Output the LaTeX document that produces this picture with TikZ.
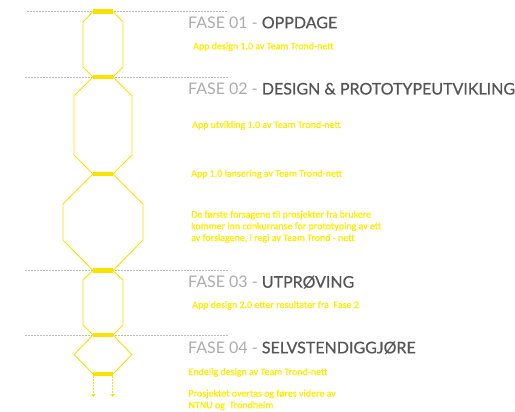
\documentclass[tikz,border=0pt]{standalone}
\usepackage{fontspec}
\setmainfont{Lato}
\newfontfamily\darkfont[FakeBold=0.6]{Lato}
\newfontfamily\bodyfont[FakeBold=0.8]{Carlito}
\usetikzlibrary{arrows.meta}
\definecolor{lineyellow}{RGB}{247,226,0}
\definecolor{textyellow}{RGB}{255,234,0}
\definecolor{phasegray}{RGB}{172,172,172}
\definecolor{titledark}{RGB}{85,85,85}
\definecolor{guidegray}{RGB}{190,190,190}
\tikzset{
  guide/.style={draw=guidegray, line width=0.8pt, dash pattern=on 2pt off 1pt},
  cell/.style={draw=lineyellow, line width=0.9pt, line join=miter},
  barnode/.style={fill=lineyellow, minimum width=20pt, minimum height=4.5pt, inner sep=0pt, draw=none},
  flow/.style={draw=lineyellow, line width=0.8pt, dash pattern=on 2pt off 1pt, -{Triangle[width=4pt,length=3pt]}},
  phase/.style={anchor=base west, inner sep=0pt, font=\fontsize{16}{19}\selectfont},
  note/.style={anchor=base west, inner sep=0pt, text=textyellow, font=\bodyfont\fontsize{10}{11.7}\selectfont, align=left},
}
\begin{document}
\begin{tikzpicture}[x=1pt,y=-1pt]
\useasboundingbox (0,0) rectangle (515,412);
% guide lines
\coordinate (g1a) at (27,11.5); \coordinate (g1b) at (228,11.5);
\coordinate (g2a) at (25,77); \coordinate (g2b) at (228,77);
\coordinate (g3a) at (25,270.5); \coordinate (g3b) at (228,270.5);
\coordinate (g4a) at (25,335); \coordinate (g4b) at (228,335);
\draw[guide] (g1a) -- (g1b);
\draw[guide] (g2a) -- (g2b);
\draw[guide] (g3a) -- (g3b);
\draw[guide] (g4a) -- (g4b);
% cells
\draw[cell] (93,11.5) -- (83,22) -- (83,67) -- (93,77) -- (113,77) -- (123,67) -- (123,22) -- (113,11.5) -- cycle;
\draw[cell] (93,77) -- (74,96) -- (74,155) -- (93,174) -- (113,174) -- (132,155) -- (132,96) -- (113,77) -- cycle;
\draw[cell] (93,174) -- (63,204) -- (63,240) -- (93,270.5) -- (113,270.5) -- (143,240) -- (143,204) -- (113,174) -- cycle;
\draw[cell] (93,270.5) -- (83,280) -- (83,325) -- (93,335) -- (113,335) -- (123,325) -- (123,280) -- (113,270.5) -- cycle;
\draw[cell] (93,335) -- (74,354.5) -- (93,374) -- (113,374) -- (132,354.5) -- (113,335) -- cycle;
% bars
\node[barnode] (b1) at (103,11.5) {};
\node[barnode] (b2) at (103,77) {};
\node[barnode] (b3) at (103,174) {};
\node[barnode] (b4) at (103,270.5) {};
\node[barnode] (b5) at (103,335) {};
\node[barnode] (b6) at (103,374) {};
% outgoing arrows
\coordinate (e1) at (93.3,397);
\coordinate (e2) at (112.7,397);
\draw[flow] (b6.south west -| e1) -- (e1);
\draw[flow] (b6.south east -| e2) -- (e2);
% titles
\node[phase] (t1) at (188,28.3) {\textcolor{phasegray}{FASE 01 - }\textcolor{titledark}{\darkfont OPPDAGE}};
\node[phase] (t2) at (188,94.5) {\textcolor{phasegray}{FASE 02 - }\textcolor{titledark}{\darkfont DESIGN \& PROTOTYPEUTVIKLING}};
\node[phase] (t3) at (188,287.7) {\textcolor{phasegray}{FASE 03 - }\textcolor{titledark}{\darkfont UTPRØVING}};
\node[phase] (t4) at (188,353.3) {\textcolor{phasegray}{FASE 04 - }\textcolor{titledark}{\darkfont SELVSTENDIGGJØRE}};
% notes
\node[note] (n1) at (193,49.3) {App design 1.0 av Team Trond-nett};
\node[note] (n2) at (192,128) {App utvikling 1.0 av Team Trond-nett};
\node[note] (n3) at (191,176.7) {App 1.0 lansering av Team Trond-nett};
\node[note] (n4) at (191,241) {De første forsagene til prosjekter fra brukere\\kommer inn conkurranse for prototyping av ett\\av forslagene, i regi av Team Trond - nett};
\node[note] (n5) at (192,308) {App design 2.0 etter resultater fra\ \ Fase 2};
\node[note] (n6) at (188.3,375) {Endelig design av Team Trond-nett};
\node[note] (n7) at (188.3,408.3) {Prosjektet overtas og føres videre av\\NTNU og\ \ Trondheim};
\end{tikzpicture}
\end{document}
